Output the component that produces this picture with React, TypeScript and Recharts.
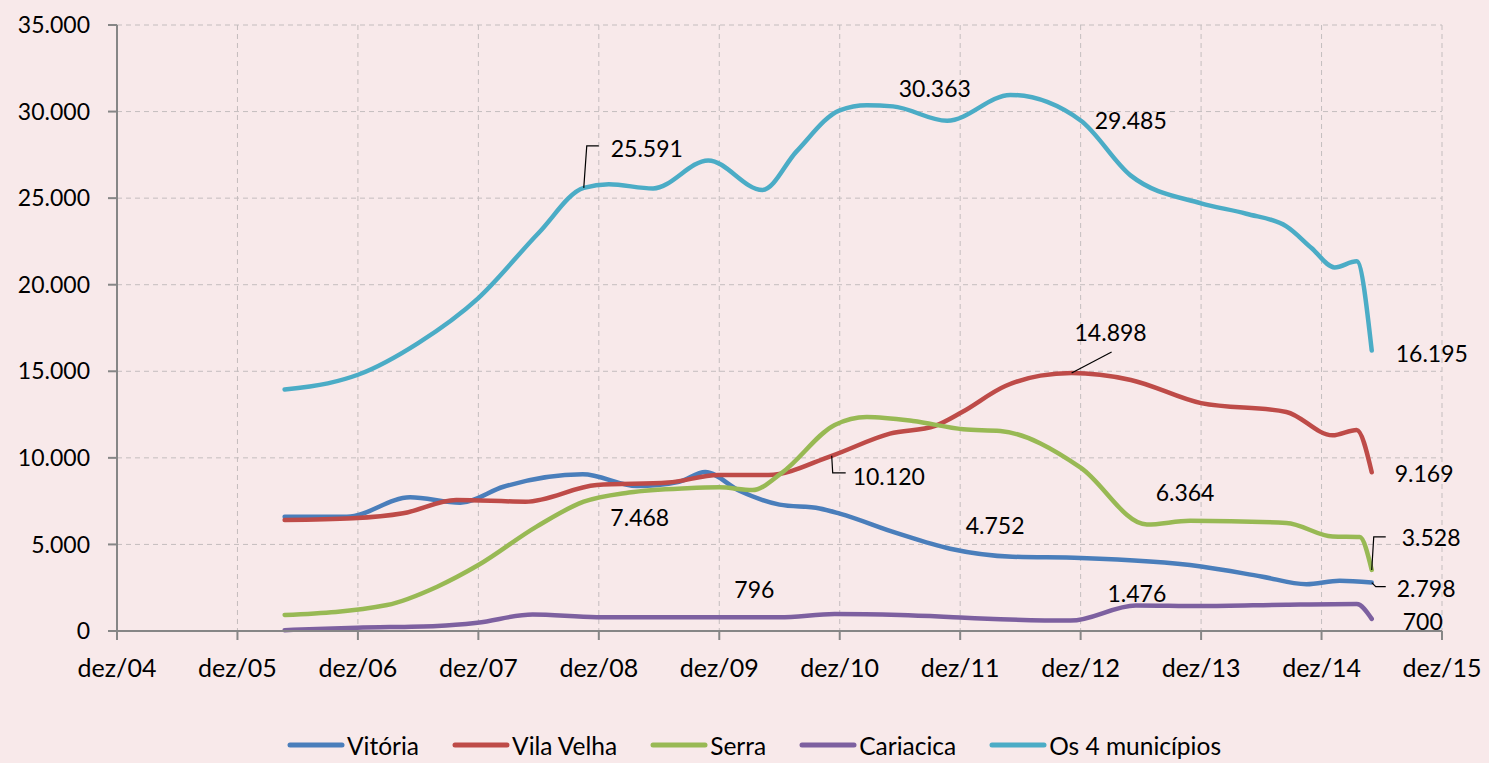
import React from 'react';
import { LineChart, Line, XAxis, YAxis, CartesianGrid, Legend } from 'recharts';

// x values are months counted from dez/04
const xTickLabels = ['dez/04', 'dez/05', 'dez/06', 'dez/07', 'dez/08', 'dez/09', 'dez/10', 'dez/11', 'dez/12', 'dez/13', 'dez/14', 'dez/15'];
const yTicks = [0, 5000, 10000, 15000, 20000, 25000, 30000, 35000];

const vitoriaMonths = [16.7, 22.9, 29.2, 34.2, 38.5, 46.4, 51.8, 56, 58.6, 62, 66, 70, 72, 77.7, 83, 89.2, 96, 108, 114, 118.5, 121.8, 125];
const vitoriaValues = [6600, 6600, 7720, 7410, 8330, 9050, 8370, 8620, 9180, 8100, 7300, 7080, 6780, 5650, 4752, 4290, 4220, 3730, 3150, 2700, 2900, 2798];

const vilaVelhaMonths = [16.7, 23.5, 28.5, 33.8, 40.7, 47.8, 54.9, 59.9, 64.9, 71.2, 77, 81.5, 84.2, 88.5, 92, 95.1, 101, 108, 116.5, 121.1, 123.5, 125];
const vilaVelhaValues = [6410, 6510, 6800, 7570, 7470, 8430, 8570, 9010, 9010, 10120, 11400, 11850, 12650, 14150, 14750, 14898, 14500, 13160, 12650, 11300, 11610, 9169];

const serraMonths = [16.7, 26.9, 31.9, 36, 41.8, 46.5, 51, 56.8, 60, 63.3, 66.2, 71.5, 74.7, 79.3, 84.3, 88, 96, 102.6, 106.9, 116.5, 121.1, 123.8, 125];
const serraValues = [924, 1500, 2560, 3810, 6030, 7468, 8000, 8250, 8300, 8140, 9120, 11900, 12360, 12130, 11650, 11550, 9440, 6150, 6364, 6240, 5460, 5430, 3528];

const cariacicaMonths = [16.7, 23.9, 31.9, 35.9, 41.4, 47.8, 56, 62.5, 66, 71.5, 78, 84, 88, 95, 101.5, 108, 116.5, 123.5, 125];
const cariacicaValues = [50, 190, 290, 480, 950, 800, 800, 796, 790, 980, 920, 780, 680, 600, 1476, 1440, 1520, 1560, 700];

const totalMonths = [16.7, 21, 24, 30, 36, 42, 46.5, 49, 53.4, 58.9, 64.3, 67.7, 72, 74.7, 77.3, 82.7, 89, 96, 101, 108, 112.5, 116.5, 119, 121.3, 123.5, 125];
const totalValues = [13950, 14300, 14800, 16630, 19230, 22990, 25591, 25800, 25560, 27180, 25470, 27700, 30070, 30363, 30300, 29470, 30960, 29485, 26300, 24700, 24100, 23370, 22120, 21000, 21350, 16195];

const series = [
  { key: 'vitoria', name: 'Vitória', color: '#4A7EBB', months: vitoriaMonths, values: vitoriaValues },
  { key: 'vilaVelha', name: 'Vila Velha', color: '#BE4B48', months: vilaVelhaMonths, values: vilaVelhaValues },
  { key: 'serra', name: 'Serra', color: '#98B954', months: serraMonths, values: serraValues },
  { key: 'cariacica', name: 'Cariacica', color: '#7D60A0', months: cariacicaMonths, values: cariacicaValues },
  { key: 'total', name: 'Os 4 municípios', color: '#4BACC6', months: totalMonths, values: totalValues },
];

// merge every series onto one table, gaps are bridged with connectNulls
const allMonths = Array.from(new Set(series.flatMap(s => s.months))).sort((a, b) => a - b);
const rows = allMonths.map(m => {
  const row: any = { m };
  series.forEach(s => {
    const i = s.months.indexOf(m);
    row[s.key] = i >= 0 ? s.values[i] : null;
  });
  return row;
});

type LabelSpec = { m: number; dx: number; dy: number; anchor: 'start' | 'middle'; leader?: number[][] };

// where each data label sits relative to its point
const labelSpecs: Record<string, LabelSpec[]> = {
  total: [
    { m: 46.5, dx: 27, dy: -40, anchor: 'start', leader: [[0, 0], [3, -42], [15, -42]] },
    { m: 74.7, dx: 68, dy: -17, anchor: 'middle' },
    { m: 96, dx: 14, dy: 0, anchor: 'start' },
    { m: 125, dx: 24, dy: 2, anchor: 'start' },
  ],
  vilaVelha: [
    { m: 95.1, dx: 39, dy: -41, anchor: 'middle', leader: [[0, 0], [40, -21]] },
    { m: 71.2, dx: 21, dy: 20, anchor: 'start', leader: [[0, 0], [1, 17], [14, 17]] },
    { m: 125, dx: 23, dy: 1, anchor: 'start' },
  ],
  serra: [
    { m: 46.5, dx: 56, dy: 15, anchor: 'middle' },
    { m: 106.9, dx: -5, dy: -29, anchor: 'middle' },
    { m: 125, dx: 30, dy: -33, anchor: 'start', leader: [[0, 0], [2, -33], [14, -33]] },
  ],
  vitoria: [
    { m: 83, dx: 45, dy: -24, anchor: 'middle' },
    { m: 125, dx: 25, dy: 5, anchor: 'start', leader: [[0, 0], [4, 4], [14, 4]] },
  ],
  cariacica: [
    { m: 62.5, dx: 10, dy: -28, anchor: 'middle' },
    { m: 101.5, dx: 1, dy: -12, anchor: 'middle' },
    { m: 125, dx: 31, dy: 2, anchor: 'start' },
  ],
};

const fmt = (v: number) => String(Math.round(v)).replace(/\B(?=(\d{3})+(?!\d))/g, '.');

const makeLabel = (key: string) => (props: any) => {
  const { x, y, value } = props;
  if (value === null || value === undefined || x == null || y == null) return null;
  const s = series.find(d => d.key === key)!;
  const spec = labelSpecs[key].find(l => s.values[s.months.indexOf(l.m)] === value);
  if (!spec) return null;
  return (
    <g key={`${key}-${spec.m}`}>
      {spec.leader && (
        <polyline
          points={spec.leader.map(p => `${x + p[0]},${y + p[1]}`).join(' ')}
          fill="none"
          stroke="#000"
          strokeWidth={1.2}
        />
      )}
      <text x={x + spec.dx} y={y + spec.dy} textAnchor={spec.anchor} dominantBaseline="central" fontSize={23} fill="#000">
        {fmt(value)}
      </text>
    </g>
  );
};

const LegendContent = () => (
  <div style={{ display: 'flex', justifyContent: 'center', alignItems: 'center', height: 36, paddingLeft: 66, fontSize: 24.5 }}>
    {series.map((s, i) => (
      <div key={s.key} style={{ display: 'flex', alignItems: 'center', marginRight: i < series.length - 1 ? 33 : 0 }}>
        <svg width={58} height={10}>
          <line x1={3} y1={5} x2={55} y2={5} stroke={s.color} strokeWidth={5} strokeLinecap="round" />
        </svg>
        <span style={{ marginLeft: 2, color: '#000' }}>{s.name}</span>
      </div>
    ))}
  </div>
);

export default function App() {
  return (
    <div style={{ position: 'absolute', left: 0, top: 0, width: 1489, height: 763, background: '#F8E9EA', fontFamily: 'Lato, sans-serif' }}>
      <LineChart width={1489} height={763} data={rows} margin={{ top: 25, right: 47, bottom: 0, left: 0 }}>
        <CartesianGrid stroke="#C4BDBE" strokeDasharray="5 4" />
        <XAxis
          dataKey="m"
          type="number"
          domain={[0, 132]}
          ticks={xTickLabels.map((_, i) => i * 12)}
          tickFormatter={(v: number) => xTickLabels[Math.round(v / 12)]}
          height={96}
          tickSize={9}
          tickMargin={19}
          stroke="#868686"
          strokeWidth={2}
          tick={{ fill: '#000', fontSize: 25 }}
        />
        <YAxis
          domain={[0, 35000]}
          ticks={yTicks}
          tickFormatter={fmt}
          width={117}
          tickSize={9}
          tickMargin={18}
          stroke="#868686"
          strokeWidth={2}
          tick={{ fill: '#000', fontSize: 23 }}
        />
        <Legend verticalAlign="bottom" content={<LegendContent />} />
        {series.map(s => (
          <Line
            key={s.key}
            type="monotone"
            dataKey={s.key}
            name={s.name}
            stroke={s.color}
            strokeWidth={4.5}
            strokeLinecap="round"
            dot={false}
            activeDot={false}
            connectNulls
            isAnimationActive={false}
            label={makeLabel(s.key)}
          />
        ))}
      </LineChart>
    </div>
  );
}
